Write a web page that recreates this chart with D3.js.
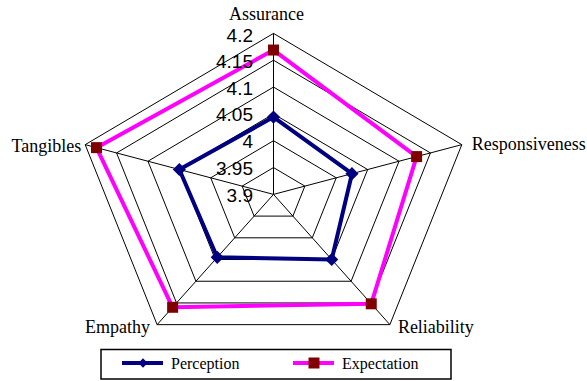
<!DOCTYPE html>
<html>
<head>
<meta charset="utf-8">
<script src="https://cdn.jsdelivr.net/npm/d3@7"></script>
<style>
  body { margin: 0; background: #fff; }
  #chart { width: 587px; height: 381px; }
</style>
</head>
<body>
<div id="chart"></div>
<script>
// Data
const categories = ["Assurance", "Responsiveness", "Reliability", "Empathy", "Tangibles"];
const perception = [4.044, 4.025, 4.05, 4.045, 4.05];
const expectation = [4.169, 4.128, 4.152, 4.16, 4.182];
const ticks = [3.9, 3.95, 4, 4.05, 4.1, 4.15, 4.2];
const tickLabels = ["3.9", "3.95", "4", "4.05", "4.1", "4.15", "4.2"];
const seriesNames = ["Perception", "Expectation"];

const width = 587, height = 381;
const cx = 273.5, cy = 194.4;
const rx = 198, ry = 161;

const svg = d3.select("#chart").append("svg")
  .attr("width", width)
  .attr("height", height);

// radial scale (fraction of outer ring)
const rScale = d3.scaleLinear().domain([3.9, 4.2]).range([0, 1]);
const angle = i => i * 2 * Math.PI / categories.length;
const pt = (i, v) => {
  const f = rScale(v);
  return [cx + rx * f * Math.sin(angle(i)), cy - ry * f * Math.cos(angle(i))];
};

// grid rings
ticks.slice(1).forEach(t => {
  svg.append("polygon")
    .attr("points", categories.map((c, i) => pt(i, t).join(",")).join(" "))
    .attr("fill", "none")
    .attr("stroke", "#000")
    .attr("stroke-width", 1);
});

// spokes
categories.forEach((c, i) => {
  const [x, y] = pt(i, 4.2);
  svg.append("line")
    .attr("x1", cx).attr("y1", cy)
    .attr("x2", x).attr("y2", y)
    .attr("stroke", "#000")
    .attr("stroke-width", 1);
});

// series
const line = d3.line().curve(d3.curveLinearClosed);
const series = [
  { values: perception, color: "#000080", marker: "diamond", mcolor: "#000080" },
  { values: expectation, color: "#FF00FF", marker: "square", mcolor: "#800000" }
];

series.forEach(s => {
  const pts = s.values.map((v, i) => pt(i, v));
  svg.append("path")
    .attr("d", line(pts))
    .attr("fill", "none")
    .attr("stroke", s.color)
    .attr("stroke-width", 4)
    .attr("stroke-linejoin", "round");
});

const markerSym = {
  diamond: d3.symbol().type(d3.symbolDiamond2).size(110),
  square: d3.symbol().type(d3.symbolSquare).size(121)
};

series.forEach(s => {
  s.values.forEach((v, i) => {
    const [x, y] = pt(i, v);
    svg.append("path")
      .attr("d", markerSym[s.marker]())
      .attr("transform", `translate(${x},${y})`)
      .attr("fill", s.mcolor);
  });
});

// tick labels (drawn over the grid like the original)
ticks.forEach((t, k) => {
  svg.append("text")
    .attr("x", cx - 20.5)
    .attr("y", pt(0, t)[1] + (t === 4.2 ? 8.5 : 7.5))
    .attr("text-anchor", "end")
    .style("font-family", "'Liberation Sans', Arial, sans-serif")
    .style("font-size", "19px")
    .text(tickLabels[k]);
});

// category labels
const labelPos = [
  { dx: -7, dy: -13, anchor: "middle" },
  { dx: 10, dy: 5, anchor: "start" },
  { dx: 8, dy: 8, anchor: "start" },
  { dx: -7, dy: 8, anchor: "end" },
  { dx: -4, dy: 7, anchor: "end" }
];
categories.forEach((c, i) => {
  const [x, y] = pt(i, 4.2);
  svg.append("text")
    .attr("x", x + labelPos[i].dx)
    .attr("y", y + labelPos[i].dy)
    .attr("text-anchor", labelPos[i].anchor)
    .style("font-family", "'Liberation Serif', 'Times New Roman', serif")
    .style("font-size", "18px")
    .text(c);
});

// legend
const legend = svg.append("g");
legend.append("rect")
  .attr("x", 101).attr("y", 349.5)
  .attr("width", 350).attr("height", 29.5)
  .attr("fill", "#fff")
  .attr("stroke", "#000")
  .attr("stroke-width", 1.5);

const legendX = [122, 293];
series.forEach((s, k) => {
  const x0 = legendX[k], y0 = 363;
  legend.append("line")
    .attr("x1", x0).attr("x2", x0 + 41)
    .attr("y1", y0).attr("y2", y0)
    .attr("stroke", s.color)
    .attr("stroke-width", 4);
  legend.append("path")
    .attr("d", d3.symbol().type(s.marker === "diamond" ? d3.symbolDiamond2 : d3.symbolSquare).size(s.marker === "diamond" ? 55 : 121)())
    .attr("transform", `translate(${x0 + 21},${y0})`)
    .attr("fill", s.mcolor);
  legend.append("text")
    .attr("x", x0 + 49)
    .attr("y", y0 + 5.5)
    .style("font-family", "'Liberation Serif', 'Times New Roman', serif")
    .style("font-size", "16px")
    .text(seriesNames[k]);
});
</script>
</body>
</html>
